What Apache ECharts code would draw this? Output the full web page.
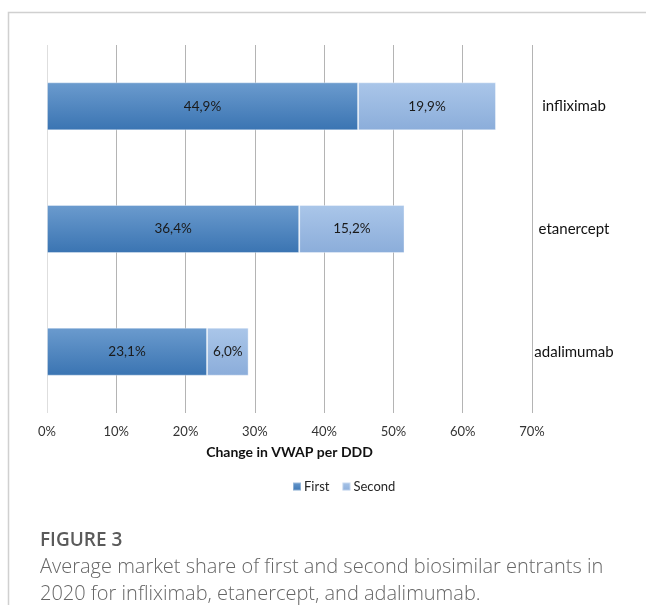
<!DOCTYPE html>
<html>
<head>
<meta charset="utf-8">
<script src="https://cdn.jsdelivr.net/npm/echarts@6/dist/echarts.min.js"></script>
<style>
  html, body { margin: 0; padding: 0; background: #ffffff; }
  #chart { width: 646px; height: 605px; }
</style>
</head>
<body>
<div id="chart"></div>
<script>
// Biosimilar molecules, listed bottom to top on the category axis
const molecules = ['adalimumab', 'etanercept', 'infliximab'];
// Average market share (%) of first and second biosimilar entrants, 2020
const firstEntrant = [23.1, 36.4, 44.9];
const secondEntrant = [6.0, 15.2, 19.9];
// Value axis ticks (%)
const tickValues = [0, 10, 20, 30, 40, 50, 60, 70];

const chartFont = 'Lato, "Liberation Sans", sans-serif';
const pct = v => v.toFixed(1).replace('.', ',') + '%';

const chart = echarts.init(document.getElementById('chart'), null, { renderer: 'canvas' });

const gradient = (top, bottom) => new echarts.graphic.LinearGradient(0, 0, 0, 1, [
  { offset: 0, color: top },
  { offset: 1, color: bottom }
]);

const gridColors = tickValues.map((t, i) => i === 0 ? '#dedede' : '#b4b4b4');

chart.setOption({
  animation: false,
  textStyle: { fontFamily: chartFont },
  grid: { left: 47, right: 114, top: 45, height: 368, containLabel: false },
  legend: {
    data: ['First', 'Second'],
    top: 475,
    left: 287,
    itemWidth: 8,
    itemHeight: 8,
    itemGap: 12,
    icon: 'rect',
    textStyle: { fontFamily: chartFont, fontSize: 13, color: '#262626', padding: [0, 0, 0, -2] }
  },
  xAxis: {
    type: 'value',
    min: 0,
    max: 70,
    interval: 10,
    name: 'Change in VWAP per DDD',
    nameLocation: 'middle',
    nameGap: 32,
    nameTextStyle: { fontFamily: chartFont, fontSize: 14, fontWeight: 'bold', color: '#111' },
    axisLine: { show: false },
    axisTick: { show: false },
    axisLabel: {
      margin: 12,
      fontSize: 13,
      color: '#333',
      formatter: v => v + '%'
    },
    splitLine: { show: true, lineStyle: { color: gridColors, width: 1 } }
  },
  yAxis: {
    type: 'category',
    data: molecules,
    position: 'right',
    axisLine: { show: false },
    axisTick: { show: false },
    axisLabel: {
      align: 'center',
      margin: 42,
      fontSize: 15,
      color: '#111'
    }
  },
  series: [
    {
      name: 'First',
      type: 'bar',
      stack: 'share',
      barWidth: 48,
      data: firstEntrant,
      itemStyle: {
        color: gradient('#6b9bce', '#3a74b2'),
        borderColor: 'rgba(255,255,255,0.35)',
        borderWidth: 1
      },
      label: {
        show: true,
        position: 'inside',
        fontSize: 13.5,
        color: '#1a1a1a',
        formatter: p => pct(p.value)
      },
      emphasis: { disabled: true }
    },
    {
      name: 'Second',
      type: 'bar',
      stack: 'share',
      barWidth: 48,
      data: secondEntrant,
      itemStyle: {
        color: gradient('#aac6e9', '#8badda'),
        borderColor: 'rgba(255,255,255,0.35)',
        borderWidth: 1
      },
      label: {
        show: true,
        position: 'inside',
        fontSize: 13.5,
        color: '#1a1a1a',
        formatter: p => pct(p.value)
      },
      emphasis: { disabled: true }
    }
  ],
  graphic: [
    {
      type: 'polyline',
      silent: true,
      shape: { points: [[8.5, 605], [8.5, 12.5], [646, 12.5]] },
      style: { stroke: '#d0d0d0', lineWidth: 1.5, fill: null }
    },
    {
      type: 'text',
      left: 40,
      top: 531,
      style: {
        text: 'FIGURE 3',
        font: '600 19px "Open Sans", sans-serif',
        fill: '#5a5a5a'
      }
    },
    {
      type: 'text',
      left: 40,
      top: 554,
      style: {
        text: 'Average market share of first and second biosimilar entrants in\n2020 for infliximab, etanercept, and adalimumab.',
        font: '300 20px "Open Sans", sans-serif',
        lineHeight: 27,
        fill: '#666666'
      }
    }
  ]
});
</script>
</body>
</html>
